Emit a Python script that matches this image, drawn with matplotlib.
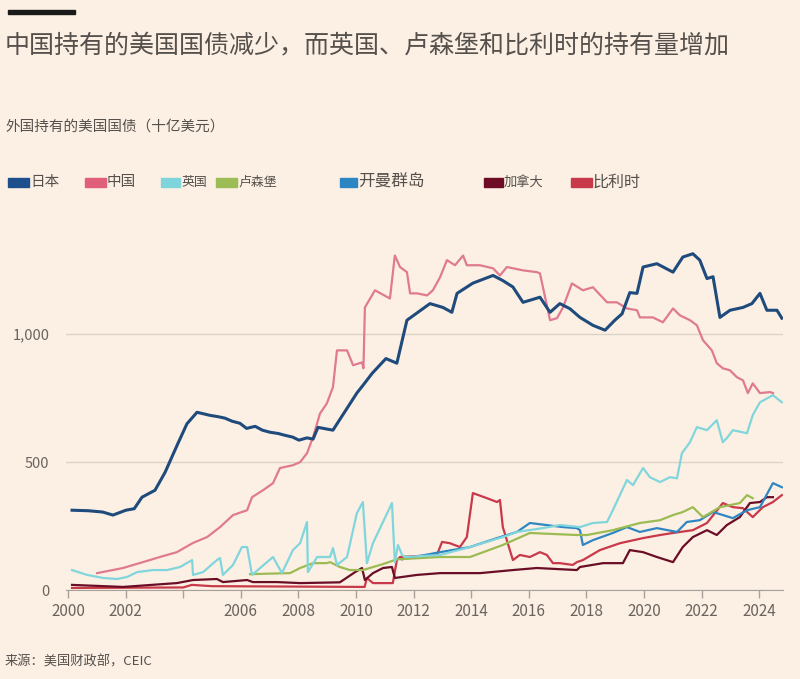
import matplotlib.pyplot as plt
from matplotlib.patches import Rectangle

plt.rcParams['font.family'] = ['Noto Sans CJK SC', 'DejaVu Sans']

# Foreign holdings of US Treasuries, $bn
japan = [(2000.14, 312), (2000.7, 310), (2001.2, 305), (2001.56, 293), (2002.01, 312),
         (2002.3, 318), (2002.57, 363), (2003.02, 390), (2003.37, 460), (2003.82, 574),
         (2004.13, 650), (2004.48, 695), (2004.93, 683), (2005.2, 678), (2005.45, 672),
         (2005.7, 660), (2005.97, 652), (2006.2, 632), (2006.5, 640), (2006.75, 625),
         (2007.01, 617), (2007.3, 612), (2007.53, 605), (2007.8, 598), (2008.02, 586),
         (2008.3, 595), (2008.51, 590), (2008.68, 636), (2009.2, 625), (2010.03, 770),
         (2010.24, 800), (2010.56, 847), (2011.04, 905), (2011.42, 887), (2011.77, 1055),
         (2012.57, 1120), (2013.02, 1105), (2013.33, 1086), (2013.51, 1160), (2014.06, 1200),
         (2014.76, 1230), (2015.1, 1210), (2015.45, 1185), (2015.8, 1125), (2016.04, 1133),
         (2016.39, 1145), (2016.74, 1086), (2017.08, 1120), (2017.43, 1100), (2017.78, 1066),
         (2018.23, 1035), (2018.65, 1016), (2018.99, 1055), (2019.24, 1080), (2019.51, 1163),
         (2019.76, 1160), (2019.97, 1263), (2020.45, 1276), (2021.01, 1243), (2021.35, 1302),
         (2021.7, 1315), (2021.94, 1290), (2022.19, 1218), (2022.4, 1225), (2022.64, 1066),
         (2022.99, 1094), (2023.44, 1105), (2023.75, 1120), (2024.03, 1160), (2024.27, 1094),
         (2024.62, 1094), (2024.79, 1063)]

china = [(2001.01, 66), (2001.91, 86), (2002.6, 109), (2003.19, 129), (2003.78, 148),
         (2004.34, 184), (2004.83, 207), (2005.28, 246), (2005.73, 293), (2006.22, 312),
         (2006.39, 363), (2006.77, 390), (2007.12, 418), (2007.36, 477), (2007.81, 488),
         (2008.06, 500), (2008.3, 535), (2008.51, 598), (2008.75, 690), (2008.99, 730),
         (2009.2, 793), (2009.34, 937), (2009.69, 937), (2009.9, 879), (2010.21, 890),
         (2010.26, 867), (2010.31, 1105), (2010.66, 1172), (2011.18, 1140), (2011.35, 1308),
         (2011.53, 1263), (2011.77, 1243), (2011.88, 1160), (2012.12, 1160), (2012.47, 1152),
         (2012.67, 1172), (2012.92, 1223), (2013.16, 1290), (2013.44, 1270), (2013.72, 1308),
         (2013.85, 1270), (2014.31, 1270), (2014.76, 1258), (2015.0, 1230), (2015.24, 1263),
         (2015.8, 1250), (2016.28, 1243), (2016.39, 1238), (2016.74, 1055), (2016.98, 1063),
         (2017.19, 1105), (2017.5, 1199), (2017.88, 1172), (2018.23, 1184), (2018.72, 1125),
         (2019.06, 1125), (2019.41, 1101), (2019.76, 1094), (2019.86, 1066), (2020.31, 1066),
         (2020.66, 1047), (2021.01, 1101), (2021.25, 1074), (2021.6, 1055), (2021.84, 1035),
         (2022.05, 977), (2022.36, 937), (2022.53, 887), (2022.74, 867), (2022.99, 859),
         (2023.23, 832), (2023.44, 820), (2023.61, 770), (2023.78, 808), (2024.03, 770),
         (2024.38, 774), (2024.48, 770)]

uk = [(2000.14, 78), (2000.66, 59), (2001.22, 47), (2001.7, 43), (2002.05, 51),
      (2002.4, 70), (2002.95, 78), (2003.44, 78), (2003.89, 90), (2004.31, 117),
      (2004.34, 59), (2004.69, 70), (2005.17, 117), (2005.28, 125), (2005.38, 59),
      (2005.73, 98), (2006.04, 168), (2006.22, 168), (2006.39, 59), (2007.12, 129),
      (2007.43, 66), (2007.81, 156), (2008.06, 183), (2008.3, 266), (2008.33, 70),
      (2008.65, 129), (2009.1, 129), (2009.2, 164), (2009.34, 98), (2009.69, 129),
      (2010.03, 300), (2010.24, 344), (2010.38, 105), (2010.59, 183), (2011.25, 340),
      (2011.35, 109), (2011.46, 176), (2011.6, 137), (2011.7, 129), (2012.92, 137),
      (2013.96, 168), (2015.1, 207), (2015.59, 227), (2016.49, 242), (2017.08, 254),
      (2017.78, 246), (2018.23, 262), (2018.72, 266), (2018.92, 312), (2019.41, 430),
      (2019.62, 410), (2019.97, 477), (2020.21, 441), (2020.56, 422), (2020.9, 441),
      (2021.15, 437), (2021.32, 535), (2021.6, 578), (2021.84, 637), (2022.19, 625),
      (2022.53, 664), (2022.74, 578), (2022.88, 594), (2023.09, 625), (2023.58, 613),
      (2023.78, 684), (2024.03, 734), (2024.48, 762), (2024.79, 734)]

luxembourg = [(2006.32, 62), (2007.71, 66), (2008.06, 86), (2008.51, 105), (2008.99, 105),
              (2009.1, 109), (2009.44, 90), (2009.79, 78), (2010.24, 78), (2010.9, 100),
              (2011.42, 120), (2012.92, 129), (2013.96, 129), (2015.1, 176), (2016.04, 223),
              (2017.67, 215), (2018.02, 215), (2018.92, 234), (2019.86, 262), (2020.56, 273),
              (2021.01, 293), (2021.35, 305), (2021.7, 324), (2022.05, 285), (2022.64, 324),
              (2023.33, 340), (2023.58, 371), (2023.78, 359)]

cayman = [(2011.6, 120), (2012.92, 148), (2013.96, 168), (2014.9, 203), (2015.59, 227),
          (2016.04, 262), (2017.19, 246), (2017.67, 242), (2017.78, 234), (2017.88, 176),
          (2018.23, 195), (2018.92, 223), (2019.41, 246), (2019.86, 227), (2020.45, 242),
          (2021.15, 227), (2021.49, 266), (2021.94, 273), (2022.4, 305), (2023.09, 281),
          (2023.58, 312), (2024.03, 324), (2024.48, 418), (2024.79, 402)]

canada = [(2000.14, 20), (2001.91, 12), (2003.78, 27), (2004.34, 39), (2005.17, 43),
          (2005.38, 31), (2006.22, 39), (2006.42, 31), (2007.26, 31), (2008.06, 27),
          (2009.44, 30), (2009.97, 70), (2010.21, 86), (2010.31, 39), (2010.59, 66),
          (2010.94, 86), (2011.25, 90), (2011.35, 47), (2012.12, 59), (2012.92, 66),
          (2014.31, 66), (2015.45, 78), (2016.28, 86), (2017.67, 78), (2017.78, 90),
          (2018.58, 105), (2019.27, 105), (2019.51, 156), (2019.97, 148), (2020.45, 129),
          (2021.01, 109), (2021.35, 168), (2021.7, 207), (2022.19, 234), (2022.53, 215),
          (2022.88, 254), (2023.33, 285), (2023.68, 340), (2024.03, 344), (2024.27, 363),
          (2024.48, 363)]

belgium = [(2000.14, 8), (2004.0, 10), (2004.3, 20), (2005.0, 15), (2010.3, 12),
           (2010.38, 47), (2010.59, 27), (2011.28, 27), (2011.42, 117), (2011.53, 129),
           (2012.81, 137), (2012.99, 188), (2013.26, 183), (2013.61, 168), (2013.85, 207),
           (2014.06, 379), (2014.55, 359), (2014.9, 344), (2015.0, 352), (2015.1, 246),
           (2015.45, 117), (2015.69, 137), (2016.04, 129), (2016.39, 148), (2016.63, 137),
           (2016.84, 105), (2017.08, 105), (2017.53, 98), (2017.67, 109), (2017.88, 117),
           (2018.47, 156), (2019.17, 183), (2019.97, 203), (2020.56, 215), (2021.01, 223),
           (2021.7, 234), (2022.19, 262), (2022.74, 340), (2023.09, 324), (2023.44, 320),
           (2023.78, 285), (2024.13, 324), (2024.48, 344), (2024.79, 371)]

bg = '#fcf0e4'
fig = plt.figure(figsize=(8, 6.79), dpi=100, facecolor=bg)
ax = fig.add_axes([66 / 800, 89 / 679, 717 / 800, 358 / 679])
ax.set_facecolor(bg)

# drawn bottom to top
lines = [(belgium, '#c8394a', 1.6), (canada, '#6a0d26', 1.6), (cayman, '#2f86c2', 1.6),
         (luxembourg, '#9cbb52', 1.6), (uk, '#80d6dc', 1.6), (china, '#e07a8f', 1.6),
         (japan, '#1e4a7c', 2.2)]
for data, color, lw in lines:
    xs, ys = zip(*data)
    ax.plot(xs, ys, color=color, lw=lw, solid_joinstyle='round')

ax.set_xlim(1999.93, 2024.83)
ax.set_ylim(0, 1400)
ax.set_yticks([0, 500, 1000])
ax.set_yticklabels(['0', '500', '1,000'])
years = list(range(2000, 2025, 2))
ax.set_xticks(years)
ax.set_xticklabels(['' if y == 2004 else str(y) for y in years])
ax.yaxis.grid(True, color='#dcd2c8', lw=1)
ax.set_axisbelow(True)
for s in ['top', 'right', 'left']:
    ax.spines[s].set_visible(False)
ax.spines['bottom'].set_color('#a8a09a')
ax.tick_params(axis='y', length=0, pad=12, labelsize=10.5, labelcolor='#6b645e')
ax.tick_params(axis='x', length=6, width=1, color='#a8a09a', pad=3,
               labelsize=11, labelcolor='#6b645e')


def fy(py):
    return 1 - py / 679


fig.patches.append(Rectangle((8 / 800, fy(14)), 67 / 800, 4 / 679,
                             transform=fig.transFigure, color='#1a1a1a'))
fig.text(5 / 800, fy(45), '中国持有的美国国债减少，而英国、卢森堡和比利时的持有量增加',
         fontsize=18, color='#55504c', va='center')
fig.text(5 / 800, fy(127), '外国持有的美国国债（十亿美元）', fontsize=10.5,
         color='#55504c', va='center')

legend = [('日本', '#1d4f8c', 8, 21, 10.5), ('中国', '#e0607a', 85, 21, 10.5),
          ('英国', '#7fd5dc', 161, 19, 9.3), ('卢森堡', '#9cbd55', 216, 21, 9.3),
          ('开曼群岛', '#2b86c1', 340, 17, 12), ('加拿大', '#6e0b25', 484, 19, 9.5),
          ('比利时', '#c8394a', 571, 21, 11.5)]
for label, color, px, w, fs in legend:
    fig.patches.append(Rectangle((px / 800, fy(187)), w / 800, 9 / 679,
                                 transform=fig.transFigure, color=color))
    fig.text((px + w + 1) / 800, fy(182.5), label, fontsize=fs, color='#55504c',
             va='center')

fig.text(5 / 800, fy(662), '来源：美国财政部，CEIC', fontsize=9.5, color='#55504c',
         va='center')

fig.savefig('out.png', dpi=100, facecolor=bg)
